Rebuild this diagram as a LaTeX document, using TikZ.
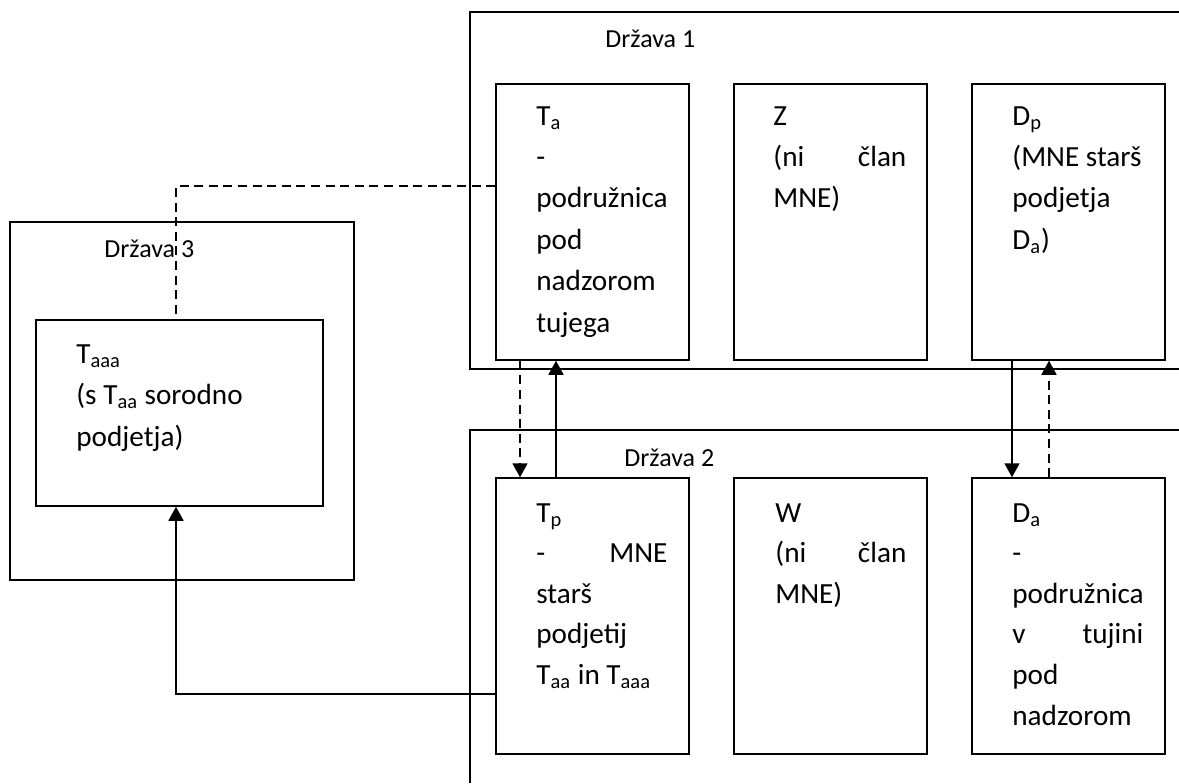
\documentclass[tikz,border=0pt]{standalone}
\usepackage{fontspec}
\setmainfont{Carlito}
\usetikzlibrary{arrows.meta,fit}
\begin{document}
\begin{tikzpicture}[x=0.5pt,y=-0.5pt,
  box/.style={draw,line width=0.75pt,inner sep=0pt},
  txt/.style={anchor=base west,inner sep=0pt,align=justify,text width=#1,font=\fontsize{14.6}{20.7}\selectfont},
  txtb/.style={anchor=base west,inner sep=0pt,align=justify,text width=#1,font=\fontsize{14.6}{20.3}\selectfont},
  lbl/.style={anchor=base west,inner sep=0pt,font=\fontsize{13}{15}\selectfont},
  conn/.style={line width=0.9pt},
  dsh/.style={conn,dash pattern=on 4.5pt off 2.8pt},
  arr/.style={-{Triangle[width=7.5pt,length=7pt]}}
]
\useasboundingbox (0,0) rectangle (1179,783);
% country frames
\draw[box] (1179,12) -- (470,12) -- (470,369) -- (1179,369);
\draw[box] (1179,430) -- (470,430) -- (470,783);
\node[box,fit={(10,222) (354,580)}] (d3) {};
\node[lbl] (l1) at (605,47) {Država 1};
\node[lbl] (l2) at (624,466) {Država 2};
\node[lbl] (l3) at (104,257) {Država 3};
% boxes
\node[box,fit={(496,84) (689,360)}] (ta) {};
\node[box,fit={(734,84) (927,360)}] (z) {};
\node[box,fit={(972,84) (1165,360)}] (dp) {};
\node[box,fit={(496,478) (689,754)}] (tp) {};
\node[box,fit={(734,478) (927,754)}] (w) {};
\node[box,fit={(972,478) (1165,754)}] (da) {};
\node[box,fit={(36,320) (323,506)}] (taaa) {};
% texts
\node[txt=66pt] (tta) at (536,125) {T\textsubscript{a}\\-\\podružnica\\pod\\nadzorom\\tujega};
\node[txt=66.5pt] (tz) at (773,125) {Z\\(ni \hfill član\\MNE)};
\node[txt=70pt] (tdp) at (1012,125) {D\textsubscript{p}\\(MNE starš\\podjetja\\D\textsubscript{a})};
\node[txtb=65.5pt] (ttp) at (536,522) {T\textsubscript{p}\\- \hfill MNE\\starš\\podjetij\\T\textsubscript{aa} in T\textsubscript{aaa}};
\node[txtb=65.5pt] (tw) at (775,522) {W\\(ni \hfill član\\MNE)};
\node[txtb=65.5pt] (tda) at (1012,522) {D\textsubscript{a}\\-\\podružnica\\v \hfill tujini\\pod\\nadzorom};
\node[anchor=base west,inner sep=0pt,align=justify,text width=120pt,font=\fontsize{14.6}{20.8}\selectfont] (ttaaa) at (76,363) {T\textsubscript{aaa}\\(s T\textsubscript{aa} sorodno\\podjetja)};
% connectors
\coordinate (x1) at (520,0);
\coordinate (x2) at (556,0);
\coordinate (x3) at (1012,0);
\coordinate (x4) at (1049,0);
\coordinate (c1) at (176,186);
\coordinate (c2) at (176,694);
\draw[dsh,arr] (ta.south -| x1) -- (tp.north -| x1);
\draw[conn,arr] (tp.north -| x2) -- (ta.south -| x2);
\draw[conn,arr] (dp.south -| x3) -- (da.north -| x3);
\draw[dsh,arr] (da.north -| x4) -- (dp.south -| x4);
\draw[dsh] (ta.west |- c1) -- (c1) -- (c1 |- taaa.north);
\draw[conn,arr] (tp.west |- c2) -- (c2) -- (c2 |- taaa.south);
\end{tikzpicture}
\end{document}
